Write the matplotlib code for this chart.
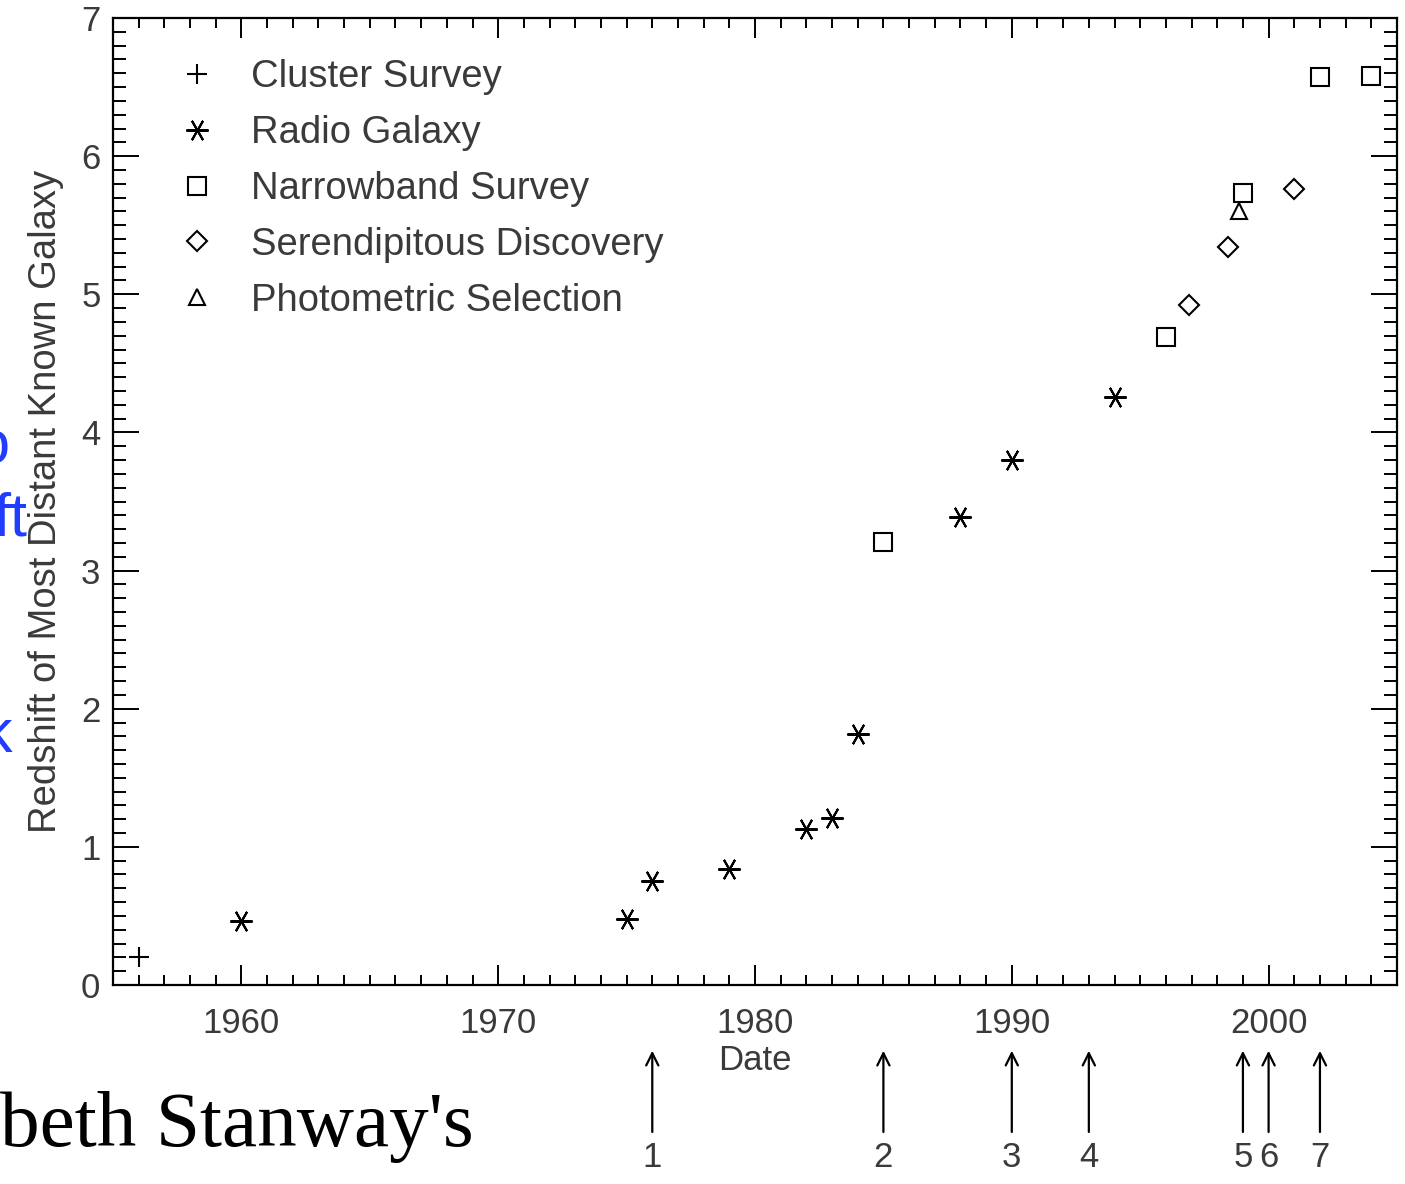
import matplotlib
matplotlib.use("Agg")
import matplotlib.pyplot as plt
from matplotlib.ticker import MultipleLocator
from matplotlib.transforms import blended_transform_factory

# ---- data ----
cluster_x = [1956.0]
cluster_z = [0.20]
radio_x = [1960.0, 1975.0, 1976.0, 1979.0, 1982.0, 1983.0, 1984.0, 1988.0, 1990.0, 1994.0]
radio_z = [0.46, 0.48, 0.75, 0.84, 1.13, 1.21, 1.82, 3.39, 3.80, 4.26]
narrow_x = [1985.0, 1996.0, 1999.0, 2002.0, 2004.0]
narrow_z = [3.21, 4.69, 5.73, 6.57, 6.58]
seren_x = [1996.9, 1998.4, 2001.0]
seren_z = [4.92, 5.34, 5.76]
photo_x = [1998.85]
photo_z = [5.60]
arrow_x = [1976.0, 1985.0, 1990.0, 1993.0, 1999.0, 2000.0, 2002.0]
arrow_labels = ["1", "2", "3", "4", "5", "6", "7"]

plt.rcParams['font.family'] = ['Liberation Sans', 'DejaVu Sans']
TXT = '#3a3a3a'

W, H = 1405, 1184
fig = plt.figure(figsize=(W / 100, H / 100), dpi=100)
ax = fig.add_axes([113 / W, 1 - 985 / H, (1397 - 113) / W, (985 - 18) / H])

mk = dict(linestyle='none', color='black', markerfacecolor='none', markeredgewidth=1.5)
ax.plot(cluster_x, cluster_z, marker='+', markersize=15, label='Cluster Survey', **mk)
ax.plot(radio_x, radio_z, marker=(6, 2, 90), markersize=16, label='Radio Galaxy', **mk)
ax.plot(narrow_x, narrow_z, marker='s', markersize=13, label='Narrowband Survey', **mk)
ax.plot(seren_x, seren_z, marker='D', markersize=10, label='Serendipitous Discovery', **mk)
ax.plot(photo_x, photo_z, marker='^', markersize=12, label='Photometric Selection', **mk)

ax.set_xlim(1955, 2005)
ax.set_ylim(0, 7)
ax.xaxis.set_major_locator(MultipleLocator(10))
ax.xaxis.set_minor_locator(MultipleLocator(1))
ax.yaxis.set_major_locator(MultipleLocator(1))
ax.yaxis.set_minor_locator(MultipleLocator(0.1))
ax.tick_params(axis='x', which='both', direction='in', top=True, bottom=True,
               width=1.4, labelsize=25, labelcolor=TXT, pad=16)
ax.tick_params(axis='x', which='major', length=14.5)
ax.tick_params(axis='x', which='minor', length=7.2)
ax.tick_params(axis='y', which='both', direction='in', left=True, right=True,
               width=1.4, labelsize=25, labelcolor=TXT, pad=9)
ax.tick_params(axis='y', which='major', length=18.7)
ax.tick_params(axis='y', which='minor', length=9.4)
for s in ax.spines.values():
    s.set_linewidth(1.6)

ax.set_xlabel('Date', fontsize=25, color=TXT, labelpad=3)
ax.set_ylabel('Redshift of Most Distant Known Galaxy', fontsize=27.5, color=TXT, labelpad=12)

leg = ax.legend(loc='upper left', bbox_to_anchor=(0.03, 0.985), frameon=False,
                fontsize=27.5, handlelength=1.0, handletextpad=0.9,
                labelspacing=0.52, borderaxespad=0.3)
for t in leg.get_texts():
    t.set_color(TXT)

# arrows below the axis
trans = blended_transform_factory(ax.transData, ax.transAxes)
for x, lab in zip(arrow_x, arrow_labels):
    ax.annotate('', xy=(x, -0.068), xytext=(x, -0.152), xycoords=trans, textcoords=trans,
                arrowprops=dict(arrowstyle='->', lw=1.6, color='black',
                                mutation_scale=22, shrinkA=0, shrinkB=0),
                annotation_clip=False)
    ax.text(x, -0.178, lab, transform=trans, ha='center', va='center',
            fontsize=25, color=TXT, clip_on=False)

# slide fragments around the chart
blue = '#1f3cff'
fig.text(10 / W, 1 - 448 / H, 'o', ha='right', va='center', fontsize=44, color=blue)
fig.text(27 / W, 1 - 535 / H, 'ft', ha='right', va='baseline', fontsize=44, color=blue)
fig.text(12 / W, 1 - 736 / H, 'k', ha='right', va='center', fontsize=44, color=blue)
fig.text(0 / W, 1 - 1146 / H, "beth Stanway's", ha='left', va='baseline',
         fontsize=57, color='black', family=['Liberation Serif', 'DejaVu Serif'])

fig.savefig('out.png', dpi=100)
